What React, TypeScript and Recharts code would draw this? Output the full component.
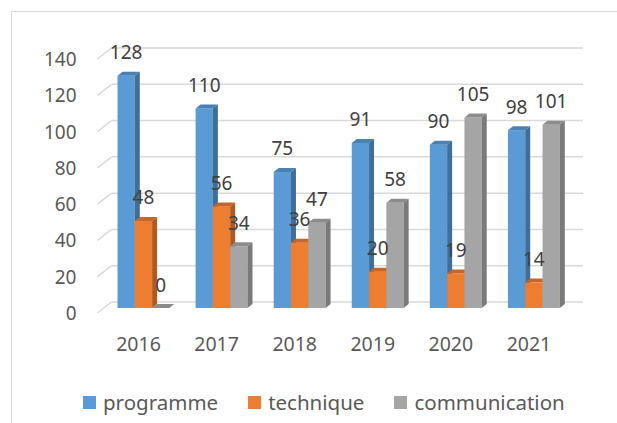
import { Bar, BarChart, CartesianGrid, LabelList, Legend, XAxis, YAxis } from "recharts";

const years = ["2016", "2017", "2018", "2019", "2020", "2021"];
const programme = [128, 110, 75, 91, 90, 98];
const technique = [48, 56, 36, 20, 19, 14];
const communication = [0, 34, 47, 58, 105, 101];
const yTicks = [0, 20, 40, 60, 80, 100, 120, 140];

const series = [
  { key: "programme", front: "#5B9BD5", top: "#4A80B4", side: "#3F6E99" },
  { key: "technique", front: "#ED7D31", top: "#C8662A", side: "#AE5A21" },
  { key: "communication", front: "#A5A5A5", top: "#8C8C8C", side: "#7A7A7A" },
];

const data = years.map((year, i) => ({
  year,
  programme: programme[i],
  technique: technique[i],
  communication: communication[i],
}));

const FONT = "'Noto Sans', 'DejaVu Sans', sans-serif";
const DEPTH_X = 5;
const DEPTH_Y = 4;

const make3DBar = (front: string, top: string, side: string) => (props: any) => {
  const { x, y, width, height } = props;
  if (x == null || y == null) return <g />;
  const h = Math.max(0, height);
  return (
    <g>
      <rect x={x} y={y} width={width} height={h} fill={front} />
      <polygon
        points={`${x},${y} ${x + DEPTH_X},${y - DEPTH_Y} ${x + width + DEPTH_X},${y - DEPTH_Y} ${x + width},${y}`}
        fill={top}
      />
      <polygon
        points={`${x + width},${y} ${x + width + DEPTH_X},${y - DEPTH_Y} ${x + width + DEPTH_X},${y + h - DEPTH_Y} ${x + width},${y + h}`}
        fill={side}
      />
    </g>
  );
};

const ValueLabel = (props: any) => {
  const { x, y, width, value } = props;
  return (
    <text
      x={x + width / 2}
      y={y - 23.5}
      textAnchor="middle"
      dominantBaseline="central"
      fill="#404040"
      fontSize={19}
      fontFamily={FONT}
    >
      {value}
    </text>
  );
};

const YTick = (props: any) => {
  const { x, y, payload } = props;
  return (
    <text
      x={x - 20}
      y={y + 5}
      textAnchor="end"
      dominantBaseline="central"
      fill="#595959"
      fontSize={19}
      fontFamily={FONT}
    >
      {payload.value}
    </text>
  );
};

const XTick = (props: any) => {
  const { x, y, payload } = props;
  return (
    <text
      x={x - 5}
      y={y + 27}
      textAnchor="middle"
      dominantBaseline="central"
      fill="#595959"
      fontSize={19.5}
      fontFamily={FONT}
    >
      {payload.value}
    </text>
  );
};

const BackWallLine = (props: any) => {
  const { x1, y1, x2, index } = props;
  return (
    <g key={`grid-${index}`}>
      <line x1={x1 - 7} y1={y1 + 5} x2={x1 + 7} y2={y1 - 6} stroke="#D9D9D9" strokeWidth={1.5} />
      <line x1={x1 + 7} y1={y1 - 6} x2={x2 + 10} y2={y1 - 6} stroke="#D9D9D9" strokeWidth={1.5} />
    </g>
  );
};

const LegendContent = () => (
  <div
    style={{
      display: "flex",
      alignItems: "center",
      paddingLeft: 83,
      height: 30,
      fontFamily: FONT,
      fontSize: 20.5,
      color: "#595959",
    }}
  >
    {series.map((s, i) => (
      <div key={s.key} style={{ display: "flex", alignItems: "center", marginRight: i < 2 ? 30 : 0 }}>
        <span style={{ width: 13, height: 13, background: s.front, marginRight: 7, display: "inline-block" }} />
        <span>{s.key}</span>
      </div>
    ))}
  </div>
);

export default function App() {
  return (
    <div style={{ position: "fixed", left: 0, top: 0, width: 617, height: 423, background: "#fff", overflow: "hidden" }}>
      <div
        style={{
          position: "absolute",
          left: 11,
          top: 11,
          width: 640,
          height: 440,
          border: "1.5px solid #D9D9D9",
        }}
      />
      <div style={{ position: "absolute", left: 0, top: 0 }}>
        <BarChart
          width={617}
          height={423}
          data={data}
          barSize={17.3}
          barGap={0}
          margin={{ top: 54, right: 44, left: 24.5, bottom: 6 }}
        >
          <CartesianGrid vertical={false} horizontal={BackWallLine} />
          <XAxis dataKey="year" axisLine={false} tickLine={false} tick={<XTick />} height={79} />
          <YAxis
            domain={[0, 140]}
            ticks={yTicks}
            axisLine={false}
            tickLine={false}
            tick={<YTick />}
            width={80}
          />
          <Legend
            verticalAlign="bottom"
            align="left"
            height={30}
            wrapperStyle={{ left: 0, width: 617 }}
            content={<LegendContent />}
          />
          {series.map((s) => (
            <Bar
              key={s.key}
              dataKey={s.key}
              isAnimationActive={false}
              shape={make3DBar(s.front, s.top, s.side)}
            >
              <LabelList dataKey={s.key} content={<ValueLabel />} />
            </Bar>
          ))}
        </BarChart>
      </div>
    </div>
  );
}
